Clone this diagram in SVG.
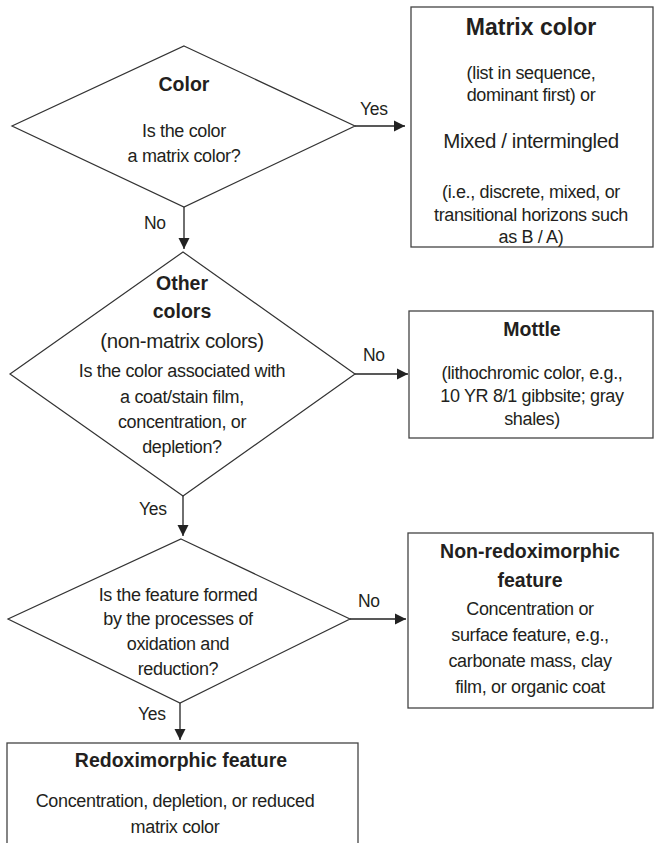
<svg xmlns="http://www.w3.org/2000/svg" width="655" height="843" viewBox="0 0 655 843">
<style>
.shape{fill:#fff;stroke:#333;stroke-width:1.2}
.box{fill:#fff;stroke:#444;stroke-width:1.3}
.conn{stroke:#222;stroke-width:1.3;fill:none}
text{font-family:"Liberation Sans",Arial,Helvetica,sans-serif;fill:#231f20;text-anchor:middle}
.t{font-size:18px;letter-spacing:-0.35px}
.b{font-size:19.5px;font-weight:bold}
.bl{font-size:23px;font-weight:bold}
.m{font-size:20.5px;letter-spacing:-0.4px}
.lab{font-size:17.5px;text-anchor:start;letter-spacing:-0.3px}
</style>
<defs>
<marker id="arr" markerUnits="userSpaceOnUse" markerWidth="12" markerHeight="12" refX="11" refY="6" orient="auto">
<path d="M0,0.5 L11,6 L0,11.5 z" fill="#222"/>
</marker>
</defs>
<rect width="655" height="843" fill="#fff"/>
<g id="connectors">
<line class="conn" x1="355" y1="126" x2="405" y2="126" marker-end="url(#arr)"/>
<line class="conn" x1="184" y1="207" x2="184" y2="249" marker-end="url(#arr)"/>
<line class="conn" x1="355" y1="374" x2="408" y2="374" marker-end="url(#arr)"/>
<line class="conn" x1="183" y1="496" x2="183" y2="536" marker-end="url(#arr)"/>
<line class="conn" x1="350" y1="619" x2="406" y2="619" marker-end="url(#arr)"/>
<line class="conn" x1="180" y1="703" x2="180" y2="740" marker-end="url(#arr)"/>
<text class="lab" x="360" y="115">Yes</text>
<text class="lab" x="144" y="229">No</text>
<text class="lab" x="363" y="361">No</text>
<text class="lab" x="139" y="515">Yes</text>
<text class="lab" x="358" y="607">No</text>
<text class="lab" x="138" y="720">Yes</text>
</g>
<g id="color-decision">
<polygon class="shape" points="184,46 355,126 184,207 12,126"/>
<text class="b" x="184" y="91">Color</text>
<text class="t" x="184" y="137">Is the color</text>
<text class="t" x="184" y="162">a matrix color?</text>
</g>
<g id="matrix-color">
<rect class="box" x="411" y="7" width="242" height="240"/>
<text class="bl" x="531" y="35">Matrix color</text>
<text class="t" x="531" y="79">(list in sequence,</text>
<text class="t" x="531" y="101">dominant first) or</text>
<text class="m" x="531" y="148">Mixed / intermingled</text>
<text class="t" x="531" y="198">(i.e., discrete, mixed, or</text>
<text class="t" x="531" y="221">transitional horizons such</text>
<text class="t" x="531" y="243">as B / A)</text>
</g>
<g id="other-colors-decision">
<polygon class="shape" points="183,252 355,374 183,496 10,374"/>
<text class="b" x="182" y="290">Other</text>
<text class="b" x="182" y="318">colors</text>
<text class="m" x="182" y="348">(non-matrix colors)</text>
<text class="t" x="182" y="377">Is the color associated with</text>
<text class="t" x="182" y="403">a coat/stain film,</text>
<text class="t" x="182" y="428">concentration, or</text>
<text class="t" x="182" y="453">depletion?</text>
</g>
<g id="mottle">
<rect class="box" x="409" y="311" width="244" height="127"/>
<text class="b" x="532" y="336">Mottle</text>
<text class="t" x="532" y="379">(lithochromic color, e.g.,</text>
<text class="t" x="532" y="402">10 YR 8/1 gibbsite; gray</text>
<text class="t" x="532" y="425">shales)</text>
</g>
<g id="redox-decision">
<polygon class="shape" points="181,539 350,619 180,703 8,619"/>
<text class="t" x="178" y="601">Is the feature formed</text>
<text class="t" x="178" y="625">by the processes of</text>
<text class="t" x="178" y="650">oxidation and</text>
<text class="t" x="178" y="675">reduction?</text>
</g>
<g id="non-redoximorphic">
<rect class="box" x="408" y="533" width="245" height="175"/>
<text class="b" x="530" y="558">Non-redoximorphic</text>
<text class="b" x="530" y="587">feature</text>
<text class="t" x="530" y="615">Concentration or</text>
<text class="t" x="530" y="641">surface feature, e.g.,</text>
<text class="t" x="530" y="667">carbonate mass, clay</text>
<text class="t" x="530" y="693">film, or organic coat</text>
</g>
<g id="redoximorphic">
<rect class="box" x="7" y="743" width="351" height="110"/>
<text class="b" x="181" y="767">Redoximorphic feature</text>
<text class="t" x="175" y="807">Concentration, depletion, or reduced</text>
<text class="t" x="175" y="833">matrix color</text>
</g>
</svg>
